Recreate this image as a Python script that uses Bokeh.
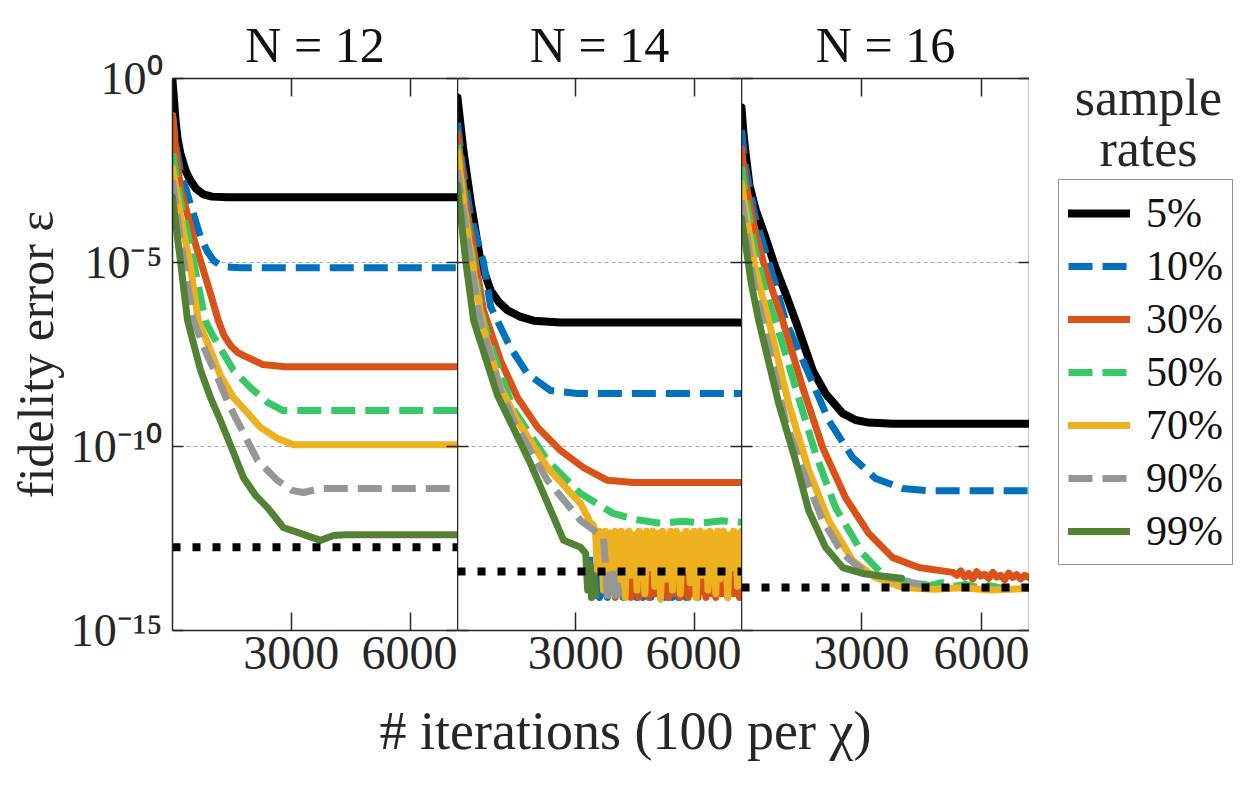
from bokeh.plotting import figure
from bokeh.models import (Range1d, FixedTicker, LinearAxis, LogAxis, CustomJSTickFormatter,
                          Legend, LegendItem, Label)
from bokeh.layouts import row, column
from bokeh.embed import file_html
from bokeh.resources import INLINE

# ---------------- data (log10 of fidelity error vs iteration) ----------------
RATES = ["5%", "10%", "30%", "50%", "70%", "90%", "99%"]
COLORS = ["#000000", "#0072BD", "#D95319", "#36C864", "#EDB120", "#969696", "#548235"]
DASHED = [False, True, False, True, False, True, False]
PANEL_TITLES = ["N = 12", "N = 14", "N = 16"]
X_LABEL = "# iterations (100 per \u03c7)"
Y_LABEL = "fidelity error \u03b5"
LEGEND_TITLE = ["sample", "rates"]
X_TICKS = [3000, 6000]
Y_TICKS = [1e-15, 1e-10, 1e-5, 1]

# N = 12
P1_BLACK_IT = [0, 40, 76, 130, 200, 330, 450, 600, 780, 1000, 1390, 7200]
P1_BLACK_LOG = [-0.05, -0.6, -1.14, -1.65, -2.04, -2.5, -2.77, -3.0, -3.15, -3.21, -3.23, -3.23]
P1_BLUE_IT = [0, 100, 200, 450, 710, 880, 1040, 1200, 1390, 1720, 7200]
P1_BLUE_LOG = [-0.95, -1.9, -2.5, -3.4, -4.32, -4.7, -4.95, -5.07, -5.12, -5.14, -5.14]
P1_ORANGE_IT = [0, 100, 200, 530, 960, 1160, 1300, 1470, 1640, 1840, 2270, 2850, 7200]
P1_ORANGE_LOG = [-1.0, -2.1, -2.96, -4.32, -5.85, -6.58, -6.98, -7.26, -7.44, -7.55, -7.77, -7.83, -7.83]
P1_GREEN_IT = [0, 200, 450, 830, 1000, 1140, 1540, 1970, 2400, 2780, 7200]
P1_GREEN_LOG = [-2.04, -3.32, -4.54, -6.58, -6.95, -7.20, -7.93, -8.40, -8.80, -9.02, -9.02]
P1_YELLOW_IT = [0, 200, 450, 650, 960, 1210, 1540, 1840, 2220, 2650, 3060, 7200]
P1_YELLOW_LOG = [-2.42, -3.72, -5.08, -6.58, -7.39, -8.07, -8.67, -9.02, -9.48, -9.78, -9.95, -9.95]
P1_GRAY_IT = [0, 200, 530, 880, 1140, 1410, 1720, 2150, 2650, 3030, 3310, 3740, 7200]
P1_GRAY_LOG = [-2.77, -4.40, -6.58, -7.53, -8.13, -8.83, -9.48, -10.38, -10.92, -11.20, -11.25, -11.14, -11.14]
P1_DKGREEN_IT = [0, 200, 380, 710, 960, 1210, 1520, 1790, 2100, 2400, 2800, 3230, 3740, 4070, 4370, 7200]
P1_DKGREEN_LOG = [-3.23, -4.95, -6.58, -7.93, -8.67, -9.29, -10.11, -10.84, -11.33, -11.66, -12.20,
                  -12.36, -12.55, -12.42, -12.40, -12.40]
P1_FLOOR = -12.74

# N = 14
P2_BLACK_IT = [0, 150, 330, 580, 840, 1050, 1270, 1600, 1930, 2610, 7200]
P2_BLACK_LOG = [-0.52, -1.96, -3.32, -4.95, -5.76, -6.08, -6.30, -6.48, -6.58, -6.63, -6.63]
P2_BLUE_IT = [0, 130, 330, 660, 840, 1340, 1770, 2360, 3040, 7200]
P2_BLUE_LOG = [-1.2, -2.4, -3.7, -5.0, -6.2, -7.31, -8.02, -8.48, -8.56, -8.56]
P2_ORANGE_IT = [0, 200, 460, 660, 1090, 1520, 2030, 2610, 3190, 3800, 4460, 7200]
P2_ORANGE_LOG = [-1.5, -3.3, -5.0, -6.3, -7.66, -8.67, -9.48, -10.11, -10.57, -10.92, -10.98, -10.98]
P2_GREEN_IT = [0, 200, 460, 660, 910, 1420, 2280, 3120, 3950, 4500, 5150, 5700, 6200, 6700, 7200]
P2_GREEN_LOG = [-1.8, -3.6, -5.4, -6.6, -7.47, -9.0, -10.38, -11.28, -11.82, -11.98, -12.09, -12.03,
                -12.08, -12.02, -12.06]
P2_YELLOW_IT = [0, 200, 460, 660, 1090, 1520, 2280, 3120, 3370]
P2_YELLOW_LOG = [-2.0, -3.8, -5.6, -6.8, -8.4, -9.3, -10.57, -11.55, -12.07]
P2_YELLOW_TAIL_START = 3450
P2_YELLOW_TAIL_LOG = [-12.15, -12.35, -13.4, -12.3, -12.4, -13.9, -12.3, -12.8, -12.35, -14.0, -13.2, -12.3,
                      -12.45, -13.7, -12.3, -12.9, -14.1, -12.35, -12.3, -13.5, -13.0, -12.4, -13.9, -12.3,
                      -12.35, -12.7, -14.0, -12.3, -13.3, -12.45, -12.3, -13.8, -12.9, -12.35, -14.15, -12.3,
                      -12.4, -13.6, -13.1, -12.3, -13.9, -12.35, -12.3, -12.8, -14.0, -12.4, -13.4, -12.3,
                      -12.35, -13.7, -13.0, -12.3, -14.1, -12.45, -12.3, -13.5, -12.9, -12.35, -13.9, -12.3,
                      -12.4, -13.2, -14.0, -12.3, -13.6, -12.35, -12.3, -12.8, -14.1, -12.4, -13.3, -12.3,
                      -12.35, -13.8, -13.0, -12.3]
P2_GRAY_IT = [0, 330, 580, 840, 1090, 1420, 2280, 3120, 3700, 3750, 3800, 3850, 3900, 3950, 4000, 4050, 4100]
P2_GRAY_LOG = [-2.5, -4.95, -6.58, -7.53, -8.48, -9.3, -10.92, -12.01, -12.47, -13.2, -14.05, -13.5, -14.1,
               -13.3, -14.05, -13.7, -14.1]
P2_DKGREEN_IT = [0, 200, 410, 1010, 1850, 2690, 3120, 3250, 3300, 3350, 3400, 3450, 3500]
P2_DKGREEN_LOG = [-2.9, -4.9, -6.58, -8.6, -10.46, -12.55, -12.74, -12.9, -13.9, -13.2, -14.1, -13.5, -14.05]
# extra noisy traces sitting on the precision floor
P2_BLUE_NOISE_START = 3350
P2_BLUE_NOISE_LOG = [-13.0, -14.1, -13.3, -14.0, -12.95, -14.1, -13.6, -14.0, -13.1, -14.1, -13.4, -13.9,
                     -13.0, -14.1, -13.7, -14.0, -13.2, -14.1, -12.95, -13.8, -14.1, -13.3, -14.0, -13.5,
                     -14.1, -13.0, -13.9, -14.1, -13.4, -14.0, -13.1, -14.1, -13.6, -14.0, -12.95, -14.1,
                     -13.3, -13.9, -14.1, -13.0, -14.0, -13.5, -14.1, -13.2, -13.9, -14.1, -13.0, -14.0,
                     -13.6, -14.1, -13.3, -14.0, -13.1, -14.1, -13.7, -14.0, -13.2]
P2_ORANGE_NOISE_START = 3950
P2_ORANGE_NOISE_LOG = [-12.6, -14.1, -13.0, -14.0, -12.7, -13.8, -14.1, -12.9, -13.6, -14.1, -12.7, -13.9,
                       -13.2, -14.1, -12.8, -13.5, -14.0, -12.7, -14.1, -13.3, -12.9, -14.0, -13.7, -12.7,
                       -14.1, -13.1, -13.9, -12.8, -14.1, -13.4, -12.7, -14.0, -13.6, -12.9, -14.1, -13.2,
                       -12.8, -13.9, -14.1, -12.7, -13.5, -14.0, -12.9, -14.1, -13.3, -12.8, -13.8, -14.1,
                       -12.7, -13.6, -14.0, -13.0, -14.1, -12.8, -13.4, -14.0, -12.7, -13.9, -14.1, -13.1,
                       -12.8, -14.0, -13.5, -12.7, -14.1, -13.2]
NOISE_STEP = 50
P2_FLOOR = -13.40

# N = 16
P3_BLACK_IT = [0, 50, 100, 200, 350, 600, 850, 1100, 1350, 1780, 2100, 2530, 2850, 3180, 3780, 7200]
P3_BLACK_LOG = [-0.79, -1.5, -2.0, -2.9, -3.55, -4.32, -5.14, -5.84, -6.58, -7.93, -8.56, -9.10, -9.28,
                -9.35, -9.38, -9.38]
P3_BLUE_IT = [0, 100, 350, 600, 850, 1100, 1680, 2180, 2780, 3350, 4030, 4680, 7200]
P3_BLUE_LOG = [-1.4, -2.4, -3.8, -4.7, -5.6, -6.58, -8.02, -9.29, -10.30, -10.87, -11.14, -11.20, -11.20]
P3_ORANGE_IT = [0, 100, 350, 600, 850, 1030, 1530, 2030, 2600, 3180, 3780, 4430, 5280, 5380, 5480, 5580,
                5680, 5780, 5880, 5980, 6080, 6180, 6280, 6380, 6480, 6580, 6680, 6780, 6880, 6980, 7080, 7180]
P3_ORANGE_LOG = [-1.9, -2.8, -4.2, -5.2, -6.0, -6.58, -8.40, -10.03, -11.39, -12.36, -13.02, -13.29, -13.42,
                 -13.5, -13.38, -13.55, -13.45, -13.6, -13.4, -13.52, -13.47, -13.58, -13.42, -13.55, -13.5,
                 -13.62, -13.44, -13.56, -13.48, -13.6, -13.5, -13.56]
P3_GREEN_IT = [0, 100, 350, 600, 850, 1350, 1850, 2350, 3030, 3600, 4430, 4700, 5000, 5300, 5600, 5900,
               6200, 6500, 6800, 7100, 7200]
P3_GREEN_LOG = [-2.4, -3.2, -4.7, -5.8, -6.58, -8.40, -10.19, -11.66, -12.91, -13.56, -13.72, -13.78, -13.7,
                -13.8, -13.75, -13.83, -13.78, -13.85, -13.8, -13.86, -13.84]
P3_YELLOW_IT = [0, 100, 350, 680, 1180, 1680, 2180, 2780, 3350, 4030, 4800, 5500, 6200, 7200]
P3_YELLOW_LOG = [-2.85, -3.6, -5.2, -6.58, -8.83, -10.65, -12.01, -13.10, -13.56, -13.83, -13.88, -13.84,
                 -13.9, -13.86]
P3_GRAY_IT = [0, 100, 300, 530, 1100, 1530, 2030, 2530, 3030, 3430, 3980, 4500]
P3_GRAY_LOG = [-3.3, -4.0, -5.5, -6.58, -9.29, -10.65, -12.01, -12.91, -13.37, -13.51, -13.64, -13.75]
P3_DKGREEN_IT = [0, 100, 250, 430, 930, 1350, 1680, 2100, 2530, 3030, 3430, 4000]
P3_DKGREEN_LOG = [-3.8, -4.5, -5.6, -6.58, -8.83, -10.38, -11.74, -12.74, -13.29, -13.45, -13.51, -13.58]
P3_FLOOR = -13.83

X_MAX = 7200

# ---------------- styling ----------------
FONT = "Liberation Serif"
TXT = "#262626"
AX = "#262626"
TOP, BOTTOM, LEFT = 78, 70, 172
FRAME_H = 552
H = TOP + FRAME_H + BOTTOM
XLAB_H = 90

SUP_JS = r"""
const e = Math.round(Math.log10(tick));
const m = {"0":"\u2070","1":"\u00b9","2":"\u00b2","3":"\u00b3","4":"\u2074","5":"\u2075",
           "6":"\u2076","7":"\u2077","8":"\u2078","9":"\u2079","-":"\u207b"};
return "10" + String(e).split("").map(c => m[c]).join("");
"""
EMPTY_JS = "return '';"


def blank_axis(ax, tick_in):
    ax.formatter = CustomJSTickFormatter(code=EMPTY_JS)
    ax.major_label_text_font_size = "0px"
    ax.major_label_standoff = 0
    ax.major_tick_in = tick_in
    ax.major_tick_out = 0
    ax.minor_tick_line_color = None
    ax.major_tick_line_color = AX
    ax.major_tick_line_width = 1.5
    ax.axis_line_color = AX
    ax.axis_line_width = 1.5


def style_kw(k):
    kw = dict(line_color=COLORS[k], line_width=8 if k == 0 else 7)
    if DASHED[k]:
        kw.update(line_dash="24 10", line_cap="butt", line_join="round")
    else:
        kw.update(line_cap="round", line_join="round")
    return kw


def lin(p, it, lg, k):
    ys = [10 ** v for v in lg]
    return p.line(it, ys, **style_kw(k))


def make_panel(idx, frame_w, left_border, series, extras, floor):
    p = figure(width=frame_w + left_border, height=H, x_range=Range1d(0, X_MAX),
               y_range=Range1d(1e-15, 1), y_axis_type="log", toolbar_location=None,
               output_backend="svg", min_border_left=left_border, min_border_right=0,
               min_border_top=TOP, min_border_bottom=BOTTOM, outline_line_color=None,
               background_fill_color="white", border_fill_color="white")
    p.title.text = PANEL_TITLES[idx]
    p.title.align = "center"
    p.title.text_font = FONT
    p.title.text_font_size = "50px"
    p.title.text_font_style = "normal"
    p.title.text_color = "#111111"
    p.title.standoff = 12

    xa = p.xaxis[0]
    xa.ticker = FixedTicker(ticks=X_TICKS)
    xa.major_tick_in = 18
    xa.major_tick_out = 0
    xa.minor_tick_line_color = None
    xa.major_label_text_font = FONT
    xa.major_label_text_font_size = "48px"
    xa.major_label_text_color = TXT
    xa.major_label_standoff = 6
    xa.axis_line_color = AX
    xa.axis_line_width = 1.5
    xa.major_tick_line_color = AX
    xa.major_tick_line_width = 1.5

    ya = p.yaxis[0]
    ya.ticker = FixedTicker(ticks=Y_TICKS)
    if idx == 0:
        ya.formatter = CustomJSTickFormatter(code=SUP_JS)
        ya.major_tick_in = 11
        ya.major_tick_out = 0
        ya.minor_tick_line_color = None
        ya.major_label_text_font = FONT
        ya.major_label_text_font_size = "46px"
        ya.major_label_text_color = TXT
        ya.major_label_standoff = 10
        ya.axis_line_color = AX
        ya.axis_line_width = 1.5
        ya.major_tick_line_color = AX
        ya.major_tick_line_width = 1.5
        ya.axis_label = Y_LABEL
        ya.axis_label_text_font = FONT
        ya.axis_label_text_font_size = "50px"
        ya.axis_label_text_font_style = "normal"
        ya.axis_label_text_color = TXT
        ya.axis_label_standoff = 4
    else:
        blank_axis(ya, 11)

    top = LinearAxis(ticker=FixedTicker(ticks=X_TICKS))
    blank_axis(top, 18)
    p.add_layout(top, "above")
    right = LogAxis(ticker=FixedTicker(ticks=Y_TICKS))
    blank_axis(right, 11)
    if idx < 2:
        right.axis_line_color = None
    p.add_layout(right, "right")

    p.xgrid.visible = False
    p.ygrid.ticker = FixedTicker(ticks=[1e-10, 1e-5])
    p.ygrid.grid_line_color = "#ababab"
    p.ygrid.grid_line_width = 1.2
    p.ygrid.grid_line_dash = "4 3"

    for k, (it, lg) in enumerate(series):
        lin(p, it, lg, k)
        for (ek, eit, elg) in extras:
            if ek == k:
                lin(p, eit, elg, k)
    p.line([0, X_MAX], [10 ** floor, 10 ** floor], line_color="black", line_width=8,
           line_dash="8 12", line_cap="butt")
    return p


P1_SERIES = [(P1_BLACK_IT, P1_BLACK_LOG), (P1_BLUE_IT, P1_BLUE_LOG), (P1_ORANGE_IT, P1_ORANGE_LOG),
             (P1_GREEN_IT, P1_GREEN_LOG), (P1_YELLOW_IT, P1_YELLOW_LOG), (P1_GRAY_IT, P1_GRAY_LOG),
             (P1_DKGREEN_IT, P1_DKGREEN_LOG)]
p2_yellow_it = P2_YELLOW_IT + [P2_YELLOW_TAIL_START + NOISE_STEP * i for i in range(len(P2_YELLOW_TAIL_LOG))]
p2_yellow_lg = P2_YELLOW_LOG + P2_YELLOW_TAIL_LOG
P2_SERIES = [(P2_BLACK_IT, P2_BLACK_LOG), (P2_BLUE_IT, P2_BLUE_LOG), (P2_ORANGE_IT, P2_ORANGE_LOG),
             (P2_GREEN_IT, P2_GREEN_LOG), (p2_yellow_it, p2_yellow_lg), (P2_GRAY_IT, P2_GRAY_LOG),
             (P2_DKGREEN_IT, P2_DKGREEN_LOG)]
P2_EXTRAS = [
    (1, [P2_BLUE_NOISE_START + NOISE_STEP * i for i in range(len(P2_BLUE_NOISE_LOG))], P2_BLUE_NOISE_LOG),
    (2, [P2_ORANGE_NOISE_START + NOISE_STEP * i for i in range(len(P2_ORANGE_NOISE_LOG))], P2_ORANGE_NOISE_LOG),
]
P3_SERIES = [(P3_BLACK_IT, P3_BLACK_LOG), (P3_BLUE_IT, P3_BLUE_LOG), (P3_ORANGE_IT, P3_ORANGE_LOG),
             (P3_GREEN_IT, P3_GREEN_LOG), (P3_YELLOW_IT, P3_YELLOW_LOG), (P3_GRAY_IT, P3_GRAY_LOG),
             (P3_DKGREEN_IT, P3_DKGREEN_LOG)]

p1 = make_panel(0, 285, LEFT, P1_SERIES, [], P1_FLOOR)
p2 = make_panel(1, 284, 0, P2_SERIES, P2_EXTRAS, P2_FLOOR)
p3 = make_panel(2, 288, 0, P3_SERIES, [], P3_FLOOR)

# ---------------- legend panel ----------------
lgf = figure(width=222, height=H, x_axis_type=None, y_axis_type=None, toolbar_location=None,
             output_backend="svg", min_border_left=0, min_border_right=0,
             min_border_top=TOP, min_border_bottom=BOTTOM, outline_line_color=None,
             x_range=Range1d(0, 1), y_range=Range1d(0, 1))
items = []
for k, name in enumerate(RATES):
    it, lg = P3_SERIES[k]
    r = lgf.line(it, [10 ** v for v in lg], **style_kw(k))
    r.visible = False
    items.append(LegendItem(label=name, renderers=[r]))
leg = Legend(items=items, location=(29, 65), border_line_color=AX, border_line_width=1.5,
             label_text_font=FONT, label_text_font_size="42px", label_text_color="#111111",
             glyph_width=62, glyph_height=48, label_height=48, spacing=5, padding=9,
             label_standoff=16, margin=0, background_fill_color="white", click_policy="none")
lgf.add_layout(leg)
lgf.add_layout(Label(x=119, y=FRAME_H - 19, x_units="screen", y_units="screen", text=LEGEND_TITLE[0],
                     text_align="center", text_baseline="middle", text_font=FONT,
                     text_font_size="52px", text_color=TXT))
lgf.add_layout(Label(x=119, y=FRAME_H - 70, x_units="screen", y_units="screen", text=LEGEND_TITLE[1],
                     text_align="center", text_baseline="middle", text_font=FONT,
                     text_font_size="52px", text_color=TXT))

# ---------------- common x-axis label strip ----------------
xlab = figure(width=LEFT + 285 + 284 + 288 + 222, height=XLAB_H, x_axis_type=None, y_axis_type=None,
              toolbar_location=None, output_backend="svg", min_border=0, outline_line_color=None,
              x_range=Range1d(0, 1), y_range=Range1d(0, 1))
xlab.add_layout(Label(x=625, y=XLAB_H - 30, x_units="screen", y_units="screen", text=X_LABEL,
                      text_align="center", text_baseline="middle", text_font=FONT,
                      text_font_size="54px", text_color=TXT))

layout = column(row(p1, p2, p3, lgf, spacing=0), xlab, spacing=0)
open("out.html", "w", encoding="utf-8").write(file_html(layout, INLINE))
